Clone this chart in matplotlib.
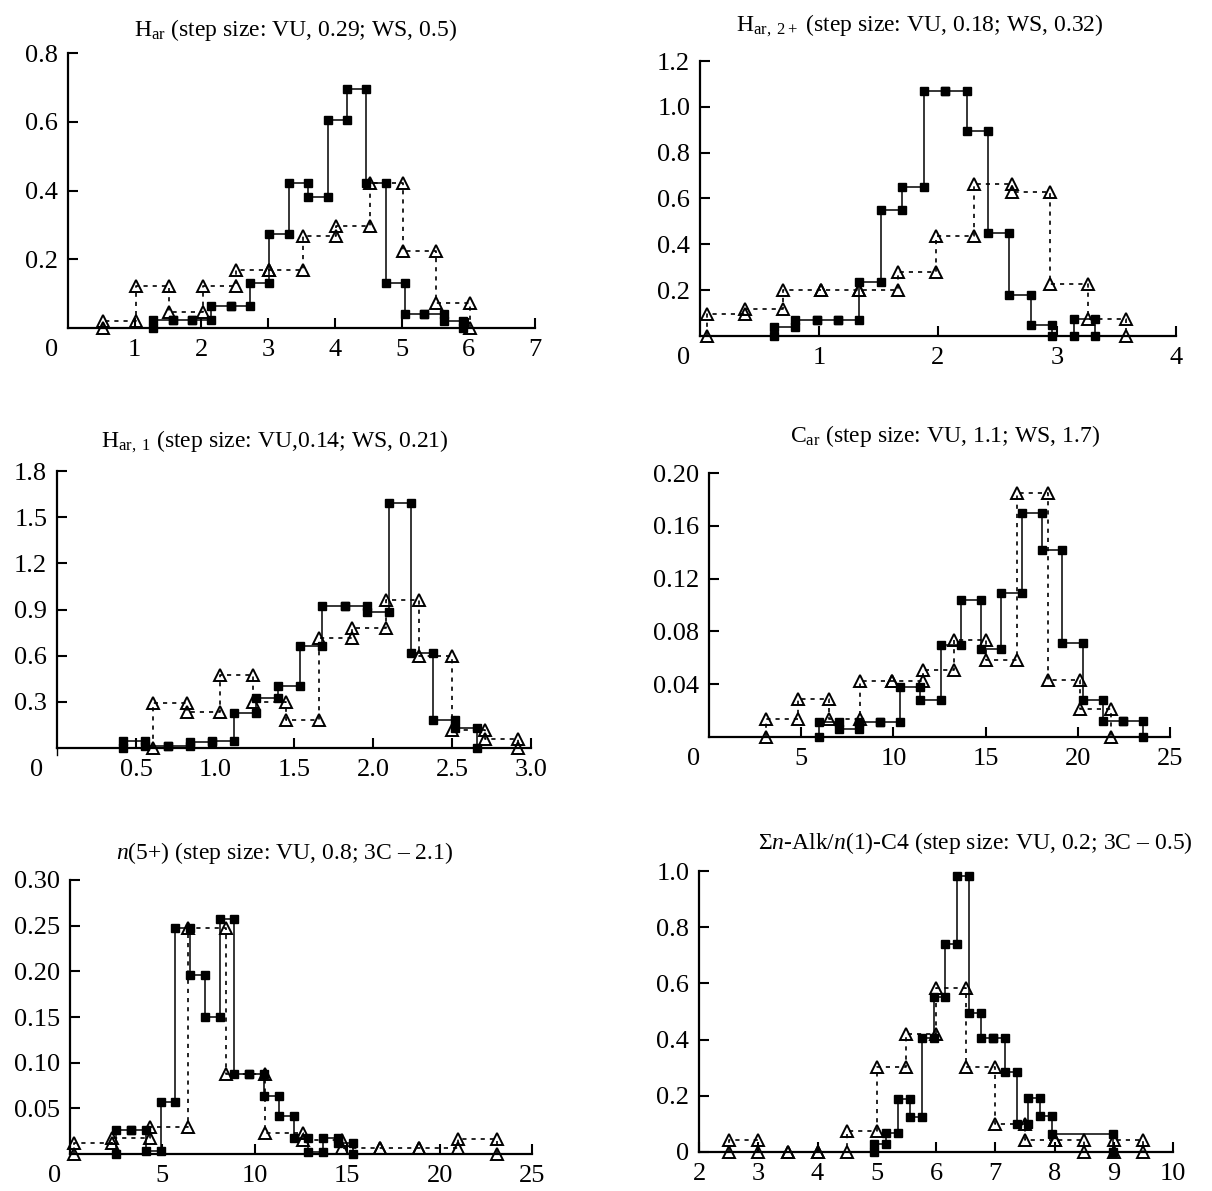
import matplotlib
matplotlib.use("Agg")
import matplotlib.pyplot as plt

plt.rcParams["font.family"] = ["Liberation Serif", "DejaVu Serif"]
plt.rcParams["mathtext.fontset"] = "custom"
plt.rcParams["mathtext.rm"] = "Liberation Serif"
plt.rcParams["mathtext.it"] = "Liberation Serif:italic"

W, H = 1212, 1191

# H_ar
har_vu_edges = [1.28, 1.57, 1.86, 2.15, 2.44, 2.73, 3.02, 3.31, 3.60, 3.89, 4.18, 4.47, 4.76, 5.05, 5.34, 5.63, 5.92]
har_vu = [0.022, 0.022, 0.022, 0.065, 0.065, 0.131, 0.274, 0.422, 0.381, 0.606, 0.695, 0.422, 0.131, 0.042, 0.042, 0.019]
har_ws_edges = [0.52, 1.02, 1.52, 2.02, 2.52, 3.02, 3.52, 4.02, 4.52, 5.02, 5.52, 6.02]
har_ws = [0.02, 0.123, 0.046, 0.123, 0.168, 0.168, 0.267, 0.296, 0.422, 0.223, 0.073]

# H_ar,2+
har2_vu_edges = [0.62, 0.80, 0.98, 1.16, 1.34, 1.52, 1.70, 1.88, 2.06, 2.24, 2.42, 2.60, 2.78, 2.96, 3.14, 3.32]
har2_vu = [0.04, 0.071, 0.071, 0.071, 0.235, 0.55, 0.65, 1.069, 1.069, 0.895, 0.449, 0.18, 0.047, 0.0, 0.076]
har2_ws_edges = [0.06, 0.38, 0.70, 1.02, 1.34, 1.66, 1.98, 2.30, 2.62, 2.94, 3.26, 3.58]
har2_ws = [0.095, 0.119, 0.199, 0.199, 0.199, 0.279, 0.435, 0.665, 0.628, 0.228, 0.076]

# H_ar,1
har1_vu_edges = [0.42, 0.56, 0.70, 0.84, 0.98, 1.12, 1.26, 1.40, 1.54, 1.68, 1.82, 1.96, 2.10, 2.24, 2.38, 2.52, 2.66]
har1_vu = [0.045, 0.01, 0.01, 0.04, 0.045, 0.23, 0.325, 0.405, 0.664, 0.925, 0.925, 0.885, 1.59, 0.62, 0.18, 0.13]
har1_ws_edges = [0.61, 0.82, 1.03, 1.24, 1.45, 1.66, 1.87, 2.08, 2.29, 2.50, 2.71, 2.92]
har1_ws = [0.292, 0.232, 0.476, 0.30, 0.18, 0.714, 0.779, 0.963, 0.595, 0.115, 0.058]

# C_ar
car_vu_edges = [5.96, 7.06, 8.16, 9.26, 10.36, 11.46, 12.56, 13.66, 14.76, 15.86, 16.96, 18.06, 19.16, 20.26, 21.36, 22.46, 23.56]
car_vu = [0.011, 0.006, 0.011, 0.011, 0.038, 0.028, 0.070, 0.104, 0.067, 0.109, 0.170, 0.142, 0.071, 0.028, 0.012, 0.012]
car_ws_edges = [3.1, 4.8, 6.5, 8.2, 9.9, 11.6, 13.3, 15.0, 16.7, 18.4, 20.1, 21.8]
car_ws = [0.014, 0.029, 0.014, 0.0425, 0.0425, 0.0506, 0.0734, 0.058, 0.185, 0.043, 0.0215]

# n(5+)
n5_vu_edges = [2.5, 3.3, 4.1, 4.9, 5.7, 6.5, 7.3, 8.1, 8.9, 9.7, 10.5, 11.3, 12.1, 12.9, 13.7, 14.5, 15.3]
n5_vu = [0.026, 0.026, 0.003, 0.057, 0.247, 0.196, 0.150, 0.257, 0.0876, 0.0876, 0.0635, 0.0416, 0.017, 0.0026, 0.017, 0.0124]
n5_3c_edges = [0.2, 2.25, 4.35, 6.4, 8.45, 10.55, 12.6, 14.7, 16.8, 18.9, 21.0, 23.1]
n5_3c = [0.0117, 0.017, 0.030, 0.247, 0.0876, 0.0226, 0.0153, 0.0062, 0.0062, 0.0062, 0.016]

# sum n-Alk / n(1)-C4
alk_vu_edges = [4.96, 5.16, 5.36, 5.56, 5.76, 5.96, 6.16, 6.36, 6.56, 6.76, 6.96, 7.16, 7.36, 7.56, 7.76, 7.96, 8.98]
alk_vu = [0.03, 0.068, 0.19, 0.125, 0.406, 0.552, 0.74, 0.982, 0.496, 0.404, 0.404, 0.283, 0.101, 0.192, 0.128, 0.065]
alk_3c_edges = [2.5, 3.0, 3.5, 4.0, 4.5, 5.0, 5.5, 6.0, 6.5, 7.0, 7.5, 8.0, 8.5, 9.0, 9.5]
alk_3c = [0.042, 0, 0, 0, 0.075, 0.303, 0.42, 0.582, 0.303, 0.101, 0.042, 0.042, 0, 0.042]

panels = [
    # title, box (left, right, top, bottom px), xlim, ylim, xticks, xfmt, yticks, ylabels, origin offset (pt), title pos, series
    (r"H$_\mathrm{ar}$ (step size: VU, 0.29; WS, 0.5)", (68, 535, 53, 328), (0, 7), (0, 0.8),
     [1, 2, 3, 4, 5, 6, 7], "{:.0f}", [0.2, 0.4, 0.6, 0.8], ["0.2", "0.4", "0.6", "0.8"], -12,
     (295, 36), (har_vu_edges, har_vu, har_ws_edges, har_ws)),
    (r"H$_\mathrm{ar,\ 2+}$ (step size: VU, 0.18; WS, 0.32)", (700, 1176, 61, 336), (0, 4), (0, 1.2),
     [1, 2, 3, 4], "{:.0f}", [0.2, 0.4, 0.6, 0.8, 1.0, 1.2], ["0.2", "0.4", "0.6", "0.8", "1.0", "1.2"], -12,
     (920, 31), (har2_vu_edges, har2_vu, har2_ws_edges, har2_ws)),
    (r"H$_\mathrm{ar,\ 1}$ (step size: VU,0.14; WS, 0.21)", (57, 531, 471, 748), (0, 3.0), (0, 1.8),
     [0.5, 1.0, 1.5, 2.0, 2.5, 3.0], "{:.1f}", [0.3, 0.6, 0.9, 1.2, 1.5, 1.8], ["0.3", "0.6", "0.9", "1.2", "1.5", "1.8"], -15,
     (275, 447), (har1_vu_edges, har1_vu, har1_ws_edges, har1_ws)),
    (r"C$_\mathrm{ar}$ (step size: VU, 1.1; WS, 1.7)", (709, 1170, 473, 737), (0, 25), (0, 0.20),
     [5, 10, 15, 20, 25], "{:.0f}", [0.04, 0.08, 0.12, 0.16, 0.20], ["0.04", "0.08", "0.12", "0.16", "0.20"], -11,
     (945, 442), (car_vu_edges, car_vu, car_ws_edges, car_ws)),
    (r"$n$(5+) (step size: VU, 0.8; 3C – 2.1)", (70, 532, 880, 1154), (0, 25), (0, 0.30),
     [5, 10, 15, 20, 25], "{:.0f}", [0.05, 0.10, 0.15, 0.20, 0.25, 0.30], ["0.05", "0.10", "0.15", "0.20", "0.25", "0.30"], -11,
     (285, 859), (n5_vu_edges, n5_vu, n5_3c_edges, n5_3c)),
    (r"Σ$n$-Alk/$n$(1)-C4 (step size: VU, 0.2; 3C – 0.5)", (699, 1173, 871, 1152), (2, 10), (0, 1.0),
     [2, 3, 4, 5, 6, 7, 8, 9, 10], "{:.0f}", [0, 0.2, 0.4, 0.6, 0.8, 1.0], ["0", "0.2", "0.4", "0.6", "0.8", "1.0"], None,
     (975, 849), (alk_vu_edges, alk_vu, alk_3c_edges, alk_3c)),
]


def step_vertices(edges, vals):
    xs = [edges[0]]
    ys = [0.0]
    for i, v in enumerate(vals):
        xs += [edges[i], edges[i + 1]]
        ys += [v, v]
    xs.append(edges[-1])
    ys.append(0.0)
    return xs, ys


fig = plt.figure(figsize=(W / 100, H / 100), dpi=100)

for k, (title, box, xlim, ylim, xt, xfmt, yt, ylabels, origin, tpos, series) in enumerate(panels):
    l, r, t, b = box
    ax = fig.add_axes([l / W, 1 - b / H, (r - l) / W, (b - t) / H])
    vu_e, vu_v, ws_e, ws_v = series

    xs, ys = step_vertices(ws_e, ws_v)
    ax.plot(xs, ys, color="black", lw=1.2, ls=(0, (2.5, 3)), marker="^", ms=8.5,
            mfc="none", mec="black", mew=1.4, clip_on=False, zorder=3)
    xs, ys = step_vertices(vu_e, vu_v)
    ax.plot(xs, ys, color="black", lw=1.1, ls="-", marker="s", ms=5.2,
            mfc="black", mec="black", clip_on=False, zorder=4)

    ax.set_xlim(*xlim)
    ax.set_ylim(*ylim)
    ax.set_xticks(xt)
    ax.set_xticklabels([xfmt.format(v) for v in xt])
    ax.set_yticks(yt)
    ax.set_yticklabels(ylabels)

    for side in ["top", "right"]:
        ax.spines[side].set_visible(False)
    for side in ["left", "bottom"]:
        ax.spines[side].set_linewidth(1.6)
    ax.tick_params(axis="both", direction="in", length=7, width=1.5, labelsize=19)
    ax.tick_params(axis="x", pad=8)
    ax.tick_params(axis="y", pad=7)

    if origin is not None:
        ax.annotate("0", xy=(0, 0), xycoords="axes fraction", xytext=(origin, -8),
                    textcoords="offset points", ha="center", va="top", fontsize=19)
    if k == 2:
        # small stray tick below the origin in the H_ar,1 panel
        ax.plot([0, 0], [0, -0.025 * ylim[1]], color="black", lw=1.0, clip_on=False)

    fig.text(tpos[0] / W, 1 - tpos[1] / H, title, ha="center", va="baseline", fontsize=17)

fig.savefig("out.png", dpi=100)
